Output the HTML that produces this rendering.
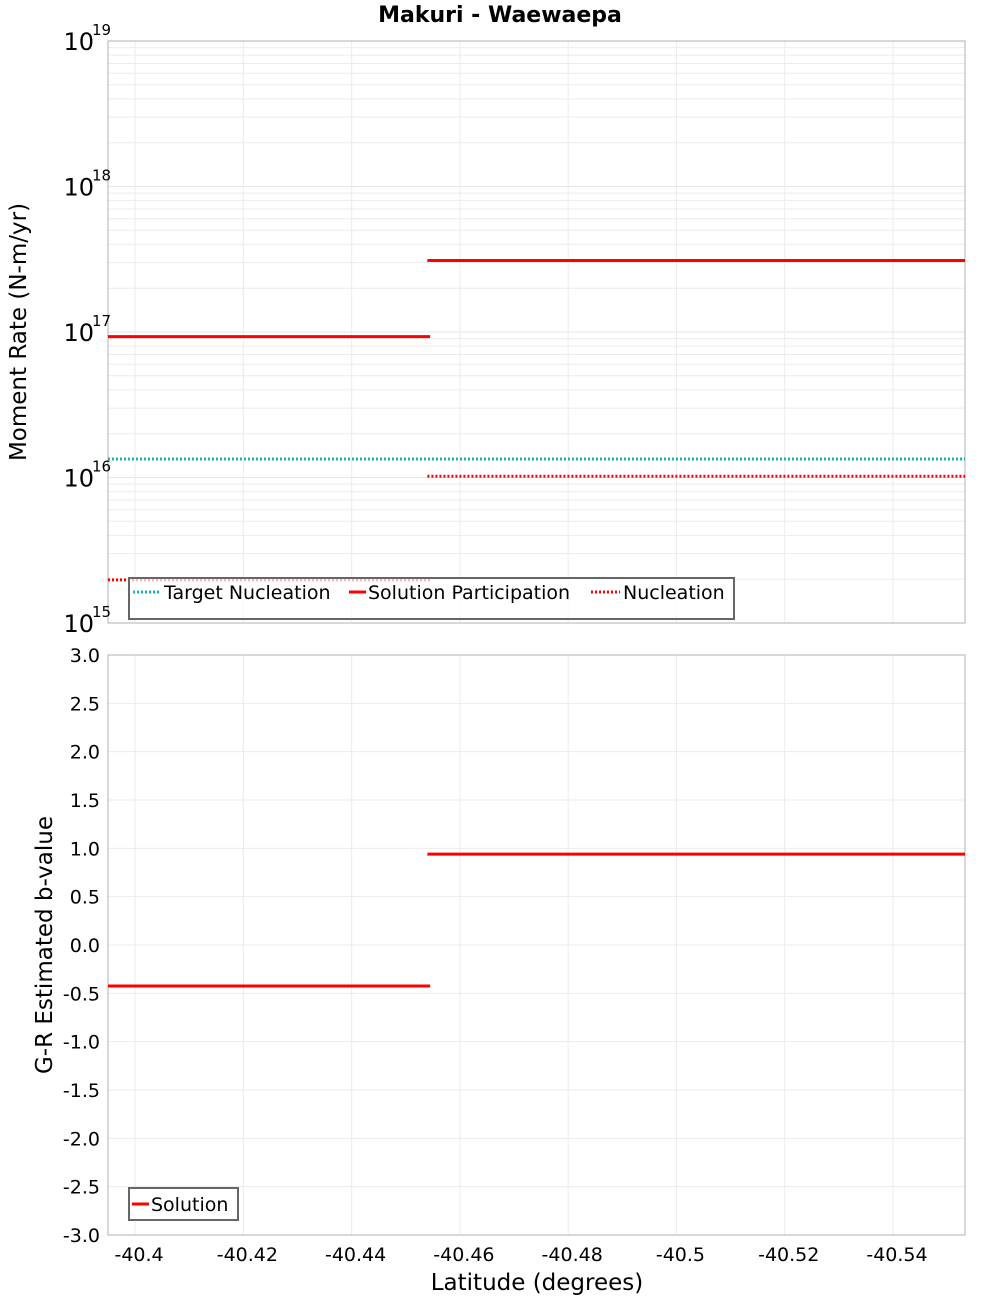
<!DOCTYPE html>
<html><head><meta charset="utf-8"><style>
body{margin:0;background:#fff;width:1000px;height:1300px;overflow:hidden}
svg{font-family:"DejaVu Sans","Liberation Sans",sans-serif}
</style></head><body>
<svg id="c" width="1000" height="1300" xmlns="http://www.w3.org/2000/svg"></svg>
<script>
const segStarts=[-40.395,-40.4540];
const segEnds=[-40.4545,-40.5533];
const partValues=[9.3e16,3.1e17];
const nuclValues=[1.98e15,1.02e16];
const targetValues=[1.34e16,1.34e16];
const bValues=[-0.424,0.94];
const xTicks=[-40.4,-40.42,-40.44,-40.46,-40.48,-40.5,-40.52,-40.54];
const xTickLabels=["-40.4","-40.42","-40.44","-40.46","-40.48","-40.5","-40.52","-40.54"];
const yExps=[15,16,17,18,19];
const bTicks=[-3,-2.5,-2,-1.5,-1,-0.5,0,0.5,1,1.5,2,2.5,3];
const bTickLabels=["-3.0","-2.5","-2.0","-1.5","-1.0","-0.5","0.0","0.5","1.0","1.5","2.0","2.5","3.0"];

const svg=document.getElementById('c');const NS='http://www.w3.org/2000/svg';
function el(t,a,txt){const e=document.createElementNS(NS,t);for(const k in a)e.setAttribute(k,a[k]);if(txt!==undefined)e.textContent=txt;svg.appendChild(e);return e;}
const L=108,R=965,T1=41,B1=623,T2=655,B2=1235;
const XMIN=-40.395,XMAX=-40.5533;
const sx=v=>L+(v-XMIN)/(XMAX-XMIN)*(R-L);
const sy1=v=>B1-(Math.log10(v)-15)/4*(B1-T1);
const sy2=v=>B2-(v+3)/6*(B2-T2);

for(let e=15;e<19;e++)for(let m=2;m<=9;m++){const g=el('line',{x1:L,x2:R,y1:sy1(m*Math.pow(10,e)),y2:sy1(m*Math.pow(10,e)),stroke:'#ebebeb','stroke-width':1});

}
yExps.forEach(e=>{const g=el('line',{x1:L,x2:R,y1:sy1(Math.pow(10,e)),y2:sy1(Math.pow(10,e)),stroke:'#e6e6e6'});

});
bTicks.forEach(v=>{const g=el('line',{x1:L,x2:R,y1:sy2(v),y2:sy2(v),stroke:'#ebebeb'});

});
xTicks.forEach(v=>{[[T1,B1],[T2,B2]].forEach(([a,b])=>{const g=el('line',{x1:sx(v),x2:sx(v),y1:a,y2:b,stroke:'#ebebeb'});

});});

let f=el('rect',{x:L,y:T1,width:R-L,height:B1-T1,fill:'none',stroke:'#b0b0b0'});


f=el('rect',{x:L,y:T2,width:R-L,height:B2-T2,fill:'none',stroke:'#b0b0b0'});



for(let i=0;i<segStarts.length;i++){
 let l=el('line',{x1:sx(segStarts[0]),x2:sx(segEnds[1]),y1:sy1(targetValues[i]),y2:sy1(targetValues[i]),stroke:'#1bb5b5','stroke-width':3,'stroke-dasharray':'2,2'});
 
 
}
for(let i=0;i<segStarts.length;i++){
 let l=el('line',{x1:sx(segStarts[i]),x2:sx(segEnds[i]),y1:sy1(nuclValues[i]),y2:sy1(nuclValues[i]),stroke:'#f00','stroke-width':3,'stroke-dasharray':'2,2'});
 
 
 l=el('line',{x1:sx(segStarts[i]),x2:sx(segEnds[i]),y1:sy1(partValues[i]),y2:sy1(partValues[i]),stroke:'#f00','stroke-width':3});
 
 
 l=el('line',{x1:sx(segStarts[i]),x2:sx(segEnds[i]),y1:sy2(bValues[i]),y2:sy2(bValues[i]),stroke:'#f00','stroke-width':3});
 
 
}

yExps.forEach(e=>{const y=sy1(Math.pow(10,e));
 let t=el('text',{x:94,y:y+9,'font-size':24,'text-anchor':'end'},'10');
 
 
 t=el('text',{x:92,y:y-6,'font-size':15},String(e));
 
 });
bTicks.forEach((v,i)=>{const t=el('text',{x:100,y:sy2(v)+7,'font-size':19,'text-anchor':'end'},bTickLabels[i]);
 
 });
xTicks.forEach((v,i)=>{const t=el('text',{x:sx(v)+4,y:1261,'font-size':19,'text-anchor':'middle'},xTickLabels[i]);
 
 });
</script>
<svg width="1000" height="1300" style="position:absolute;left:0;top:0" xmlns="http://www.w3.org/2000/svg" font-family="DejaVu Sans, Liberation Sans, sans-serif">
<text x="500" y="22" font-size="22" font-weight="bold" text-anchor="middle">Makuri - Waewaepa</text>
<text transform="translate(26,332) rotate(-90)" font-size="23" text-anchor="middle">Moment Rate (N-m/yr)</text>
<text transform="translate(52,945) rotate(-90)" font-size="23" text-anchor="middle">G-R Estimated b-value</text>
<text x="537" y="1290" font-size="23" text-anchor="middle">Latitude (degrees)</text>
<g>
<rect x="129" y="578" width="605" height="41" fill="#fff" fill-opacity="0.7" stroke="#666" stroke-width="2"/>
<line x1="133" x2="160" y1="592" y2="592" stroke="#1bb5b5" stroke-width="3" stroke-dasharray="2,2"/>
<text x="164" y="599" font-size="19">Target Nucleation</text>
<line x1="349" x2="366" y1="592" y2="592" stroke="#f00" stroke-width="3"/>
<text x="368" y="599" font-size="19">Solution Participation</text>
<line x1="591" x2="620" y1="592" y2="592" stroke="#f00" stroke-width="3" stroke-dasharray="2,2"/>
<text x="623" y="599" font-size="19">Nucleation</text>
</g>
<g>
<rect x="129" y="1188" width="109" height="32" fill="#fff" stroke="#666" stroke-width="2"/>
<line x1="132" x2="149" y1="1204" y2="1204" stroke="#f00" stroke-width="3"/>
<text x="151" y="1211" font-size="19">Solution</text>
</g>
</svg>
</body></html>
